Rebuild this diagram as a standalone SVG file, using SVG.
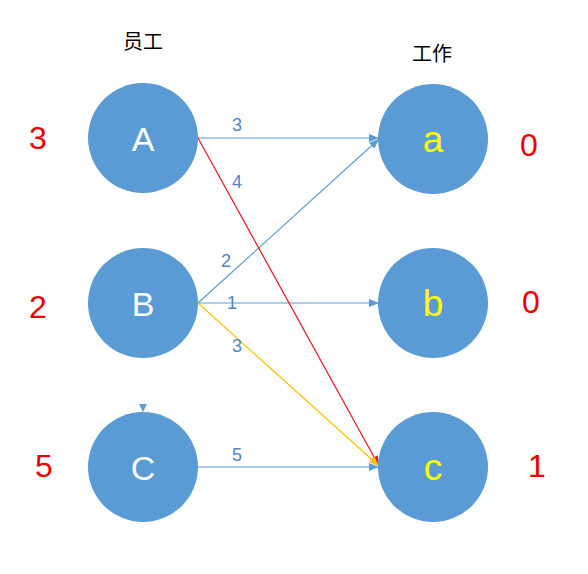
<svg xmlns="http://www.w3.org/2000/svg" width="588" height="574" viewBox="0 0 588 574">
<style>
.node{fill:#5b9bd5;}
.up{font-family:"Liberation Sans","Open Sans",sans-serif;font-size:34px;fill:#ffffff;text-anchor:middle;}
.lo{font-family:"Liberation Sans","Open Sans",sans-serif;font-size:37px;fill:#ffff00;text-anchor:middle;}
.num{font-family:"Liberation Sans","Open Sans",sans-serif;font-size:32px;fill:#ee0000;text-anchor:middle;}
.el{font-family:"Liberation Sans","Open Sans",sans-serif;font-size:18px;fill:#4f86c6;text-anchor:middle;}
.hd{font-family:"Noto Sans CJK SC","Liberation Sans",sans-serif;font-size:20px;fill:#000000;}
.e{fill:none;stroke-width:1.2;}
.blue{stroke:#5b9bd5;}
.red{stroke:#e8141c;}
.yel{stroke:#ffc000;}
</style>
<defs>
<marker id="ab" markerUnits="userSpaceOnUse" markerWidth="11" markerHeight="9" refX="10" refY="4" orient="auto"><path d="M0,0 L10,4 L0,8 z" fill="#5b9bd5"/></marker>
<marker id="ar" markerUnits="userSpaceOnUse" markerWidth="11" markerHeight="9" refX="10" refY="4" orient="auto"><path d="M0,0 L10,4 L0,8 z" fill="#e8141c"/></marker>
<marker id="ay" markerUnits="userSpaceOnUse" markerWidth="11" markerHeight="9" refX="10" refY="4" orient="auto"><path d="M0,0 L10,4 L0,8 z" fill="#ffc000"/></marker>
</defs>
<rect width="588" height="574" fill="#ffffff"/>
<text class="hd" x="123" y="49">员工</text>
<text class="hd" x="412" y="61">工作</text>
<g id="edges">
<line class="e blue" x1="198" y1="138" x2="379" y2="138" marker-end="url(#ab)"/>
<line class="e blue" x1="198" y1="303" x2="379" y2="139" marker-end="url(#ab)"/>
<line class="e blue" x1="198" y1="303" x2="379" y2="303" marker-end="url(#ab)"/>
<line class="e blue" x1="198" y1="467" x2="379" y2="467" marker-end="url(#ab)"/>
<line class="e red" x1="198" y1="138" x2="379" y2="466" marker-end="url(#ar)"/>
<line class="e yel" x1="198" y1="303" x2="379" y2="466" marker-end="url(#ay)"/>
<path d="M139,404 L147,404 L143,412 z" fill="#5b9bd5"/>
<text class="el" x="237" y="131">3</text>
<text class="el" x="237" y="188">4</text>
<text class="el" x="226" y="267">2</text>
<text class="el" x="232" y="309">1</text>
<text class="el" x="237" y="352">3</text>
<text class="el" x="237" y="461">5</text>
</g>
<g id="node-A"><circle class="node" cx="143" cy="138" r="55"/><text class="up" x="143" y="151">A</text></g>
<g id="node-B"><circle class="node" cx="143" cy="303" r="55"/><text class="up" x="143" y="316">B</text></g>
<g id="node-C"><circle class="node" cx="143" cy="467" r="55"/><text class="up" x="143" y="480">C</text></g>
<g id="node-a"><circle class="node" cx="433" cy="139" r="55"/><text class="lo" x="433" y="152">a</text></g>
<g id="node-b"><circle class="node" cx="433" cy="303" r="55"/><text class="lo" x="433" y="316">b</text></g>
<g id="node-c"><circle class="node" cx="433" cy="467" r="55"/><text class="lo" x="433" y="480">c</text></g>
<text class="num" x="38" y="149">3</text>
<text class="num" x="38" y="318">2</text>
<text class="num" x="44" y="477">5</text>
<text class="num" x="529" y="156">0</text>
<text class="num" x="531" y="313">0</text>
<text class="num" x="537" y="477">1</text>
</svg>
